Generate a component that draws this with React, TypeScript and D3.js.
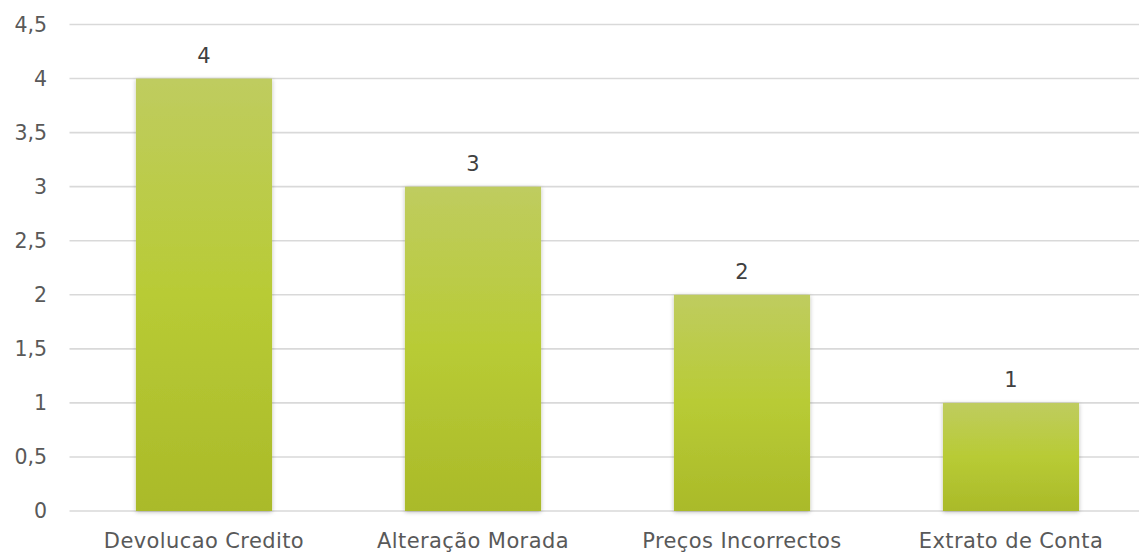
import React from "react";
import * as d3 from "d3";

const categories = ["Devolucao Credito", "Alteração Morada", "Preços Incorrectos", "Extrato de Conta"];
const values = [4, 3, 2, 1];
const yTicks = [0, 0.5, 1, 1.5, 2, 2.5, 3, 3.5, 4, 4.5];

const W = 1139;
const H = 553;

export default function App() {
  const left = 69.5;
  const band = 269;
  const x = d3
    .scaleBand<string>()
    .domain(categories)
    .range([left, left + band * categories.length])
    .paddingInner(0.494)
    .paddingOuter(0.247);
  const y = d3.scaleLinear().domain([0, 4.5]).range([511, 24.5]);
  const fmt = (v: number) => String(v).replace(".", ",");
  const font = "'DejaVu Sans', 'Open Sans', sans-serif";
  return (
    <svg width={W} height={H} style={{ position: "absolute", left: 0, top: 0 }} fontFamily={font}>
      <defs>
        <linearGradient id="barGrad" x1="0" y1="0" x2="0" y2="1">
          <stop offset="0%" stopColor="#BFCC5F" />
          <stop offset="50%" stopColor="#B8CB35" />
          <stop offset="100%" stopColor="#AABA29" />
        </linearGradient>
        <filter id="shadow" x="-10%" y="-10%" width="120%" height="120%">
          <feDropShadow dx="0" dy="1" stdDeviation="2" floodColor="#000" floodOpacity="0.28" />
        </filter>
      </defs>
      <rect width={W} height={H} fill="#fff" />
      {yTicks.map((t) => (
        <g key={t}>
          <line x1={left} x2={W} y1={y(t)} y2={y(t)} stroke="#D9D9D9" strokeWidth={1.6} />
          <text x={47} y={y(t)} dy="0.36em" textAnchor="end" fontSize={20.5} fill="#595959">
            {fmt(t)}
          </text>
        </g>
      ))}
      {categories.map((c, i) => (
        <g key={c}>
          <rect
            x={x(c)}
            y={y(values[i])}
            width={x.bandwidth()}
            height={y(0) - y(values[i])}
            fill="url(#barGrad)"
            filter="url(#shadow)"
          />
          <text
            x={(x(c) as number) + x.bandwidth() / 2}
            y={y(values[i]) - 16}
            textAnchor="middle"
            fontSize={21}
            fill="#404040"
          >
            {values[i]}
          </text>
          <text
            x={(x(c) as number) + x.bandwidth() / 2}
            y={548}
            textAnchor="middle"
            fontSize={21}
            letterSpacing={0.4}
            fill="#595959"
          >
            {c}
          </text>
        </g>
      ))}
    </svg>
  );
}
